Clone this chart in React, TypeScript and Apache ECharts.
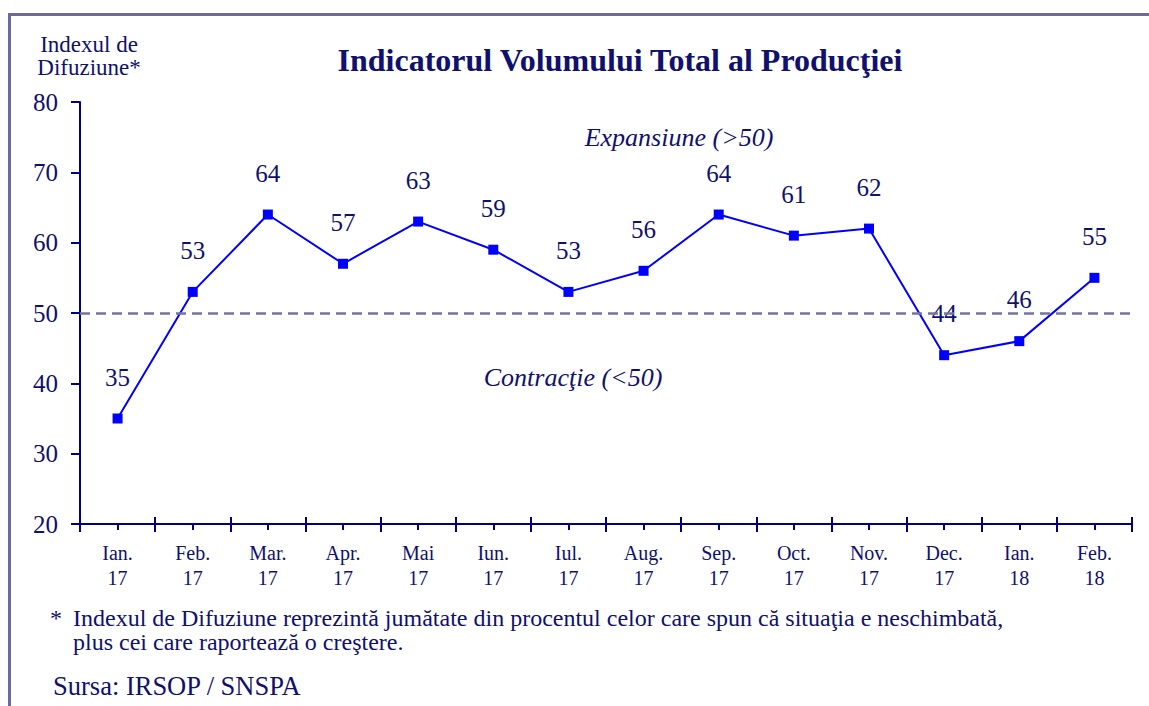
import React, { useEffect, useRef } from "react";
import * as echarts from "echarts";

const categories = [
  "Ian.\n17", "Feb.\n17", "Mar.\n17", "Apr.\n17", "Mai\n17", "Iun.\n17", "Iul.\n17",
  "Aug.\n17", "Sep.\n17", "Oct.\n17", "Nov.\n17", "Dec.\n17", "Ian.\n18", "Feb.\n18",
];
const values = [35, 53, 64, 57, 63, 59, 53, 56, 64, 61, 62, 44, 46, 55];
const threshold = 50;
const yMin = 20;
const yMax = 80;
const yStep = 10;
const yNameLines = ["Indexul de", "Difuziune*"];

const FONT = "Liberation Serif";
const NAVY = "#000080";
const TEXT = "#10106e";

export default function App() {
  const ref = useRef<HTMLDivElement>(null);
  useEffect(() => {
    if (!ref.current) return;
    const chart = echarts.init(ref.current, undefined, { renderer: "svg" });
    const baseX = {
      type: "category" as const,
      data: categories,
      boundaryGap: true,
      position: "bottom" as const,
    };
    chart.setOption({
      animation: false,
      backgroundColor: "#ffffff",
      textStyle: { fontFamily: FONT },
      title: {
        text: "Indicatorul Volumului Total al Producţiei",
        left: 615,
        textAlign: "center",
        top: 39,
        textStyle: { fontFamily: FONT, fontSize: 32, fontWeight: "bold", color: TEXT },
      },
      grid: { left: 80, right: 17, top: 102, bottom: 182 },
      xAxis: [
        {
          ...baseX,
          axisLine: { show: true, lineStyle: { color: NAVY, width: 2 } },
          axisTick: { show: true, interval: 0, length: 8, lineStyle: { color: NAVY, width: 2 } },
          axisLabel: {
            interval: 0,
            margin: 16,
            fontFamily: FONT,
            fontSize: 20,
            lineHeight: 25,
            color: TEXT,
          },
        },
        {
          ...baseX,
          axisLine: { show: false },
          axisTick: { show: true, inside: true, interval: 0, length: 7, lineStyle: { color: NAVY, width: 2 } },
          axisLabel: { show: false },
        },
        {
          ...baseX,
          axisLine: { show: false },
          axisTick: { show: true, interval: 0, alignWithLabel: true, length: 6, lineStyle: { color: NAVY, width: 2 } },
          axisLabel: { show: false },
        },
      ],
      yAxis: {
        type: "value",
        min: yMin,
        max: yMax,
        interval: yStep,
        axisLine: { show: true, lineStyle: { color: NAVY, width: 2 } },
        axisTick: { show: true, length: 9, lineStyle: { color: NAVY, width: 2 } },
        axisLabel: { margin: 22, fontFamily: FONT, fontSize: 25, color: TEXT },
        splitLine: { show: false },
      },
      series: [
        {
          type: "line",
          xAxisIndex: 0,
          data: values,
          symbol: "rect",
          symbolSize: 10,
          itemStyle: { color: "#0000ff" },
          lineStyle: { color: "#0000ff", width: 2 },
          label: {
            show: true,
            position: "top",
            distance: 24,
            fontFamily: FONT,
            fontSize: 25,
            color: TEXT,
          },
          markLine: {
            silent: true,
            symbol: "none",
            label: { show: false },
            lineStyle: { color: "#7474a0", width: 2.5, type: [10, 6] },
            data: [{ yAxis: threshold }],
          },
          z: 3,
        },
      ],
      graphic: [
        { type: "rect", shape: { x: 9, y: 13, width: 1140, height: 3 }, style: { fill: "#6a6a9a" } },
        { type: "rect", shape: { x: 8, y: 13, width: 3, height: 693 }, style: { fill: "#6a6a9a" } },
        ...yNameLines.map((t, i) => ({
          type: "text",
          x: 89,
          y: 44 + i * 23.5,
          style: {
            text: t,
            fontFamily: FONT,
            fontSize: 23,
            fill: TEXT,
            textAlign: "center",
            textVerticalAlign: "middle",
          },
        })),
        {
          type: "text",
          x: 679,
          y: 124,
          style: {
            text: "Expansiune (>50)",
            fontFamily: FONT,
            fontSize: 26,
            fontStyle: "italic",
            fill: TEXT,
            textAlign: "center",
          },
        },
        {
          type: "text",
          x: 573,
          y: 364,
          style: {
            text: "Contracţie (<50)",
            fontFamily: FONT,
            fontSize: 26,
            fontStyle: "italic",
            fill: TEXT,
            textAlign: "center",
          },
        },
        {
          type: "text",
          x: 50,
          y: 606,
          style: { text: "*", fontFamily: FONT, fontSize: 24, fill: TEXT },
        },
        {
          type: "text",
          x: 73,
          y: 606,
          style: {
            text: "Indexul de Difuziune reprezintă jumătate din procentul celor care spun că situaţia e neschimbată,\nplus cei care raportează o creştere.",
            fontFamily: FONT,
            fontSize: 24,
            lineHeight: 24,
            fill: TEXT,
          },
        },
        {
          type: "text",
          x: 53,
          y: 672,
          style: { text: "Sursa: IRSOP / SNSPA", fontFamily: FONT, fontSize: 26.5, fill: TEXT },
        },
      ],
    });
    return () => chart.dispose();
  }, []);
  return (
    <div
      ref={ref}
      style={{ position: "fixed", left: 0, top: 0, width: 1149, height: 706 }}
    />
  );
}
